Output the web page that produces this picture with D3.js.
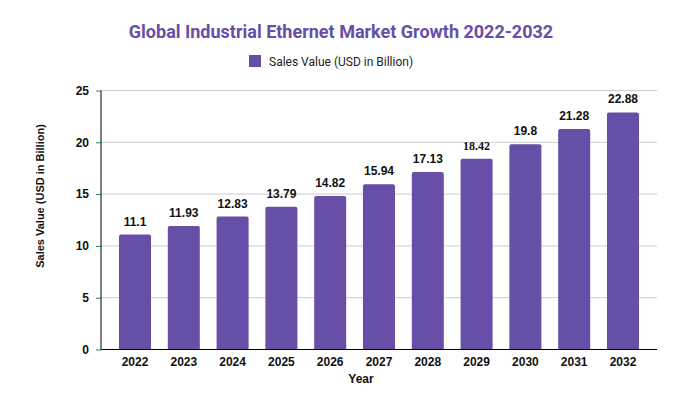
<!DOCTYPE html>
<html>
<head>
<meta charset="utf-8">
<script src="https://cdn.jsdelivr.net/npm/d3@7"></script>
<style>
  body { margin: 0; background: #fff; }
  text { font-family: Roboto, "Liberation Sans", Arial, sans-serif; }
</style>
</head>
<body>
<div id="chart"></div>
<script>
var years  = ['2022', '2023', '2024', '2025', '2026', '2027', '2028', '2029', '2030', '2031', '2032'];
var sales  = [11.1, 11.93, 12.83, 13.79, 14.82, 15.94, 17.13, 18.42, 19.8, 21.28, 22.88];
var yTicks = [0, 5, 10, 15, 20, 25];

var width = 677, height = 416;
var margin = { top: 90.5, right: 20, bottom: 66.5, left: 101 };
var barColor = '#674ea7';

var svg = d3.select('#chart').append('svg')
    .attr('width', width)
    .attr('height', height);

// title
svg.append('text')
    .attr('x', 341)
    .attr('y', 38)
    .attr('text-anchor', 'middle')
    .style('font-size', '18px')
    .style('font-weight', 'bold')
    .attr('fill', barColor)
    .text('Global Industrial Ethernet Market Growth 2022-2032');

// legend
svg.append('rect')
    .attr('x', 249).attr('y', 55)
    .attr('width', 12).attr('height', 12)
    .attr('fill', barColor);
svg.append('text')
    .attr('x', 269).attr('y', 65.5)
    .style('font-size', '12px')
    .attr('fill', '#222')
    .text('Sales Value (USD in Billion)');

var x = d3.scaleBand()
    .domain(years)
    .range([margin.left, width - margin.right])
    .paddingInner(0.344)
    .paddingOuter(0.369);

var y = d3.scaleLinear()
    .domain([0, 25])
    .range([height - margin.bottom, margin.top]);

// grid lines
svg.append('g')
    .selectAll('line')
    .data(yTicks.filter(function(d) { return d > 0; }))
    .join('line')
    .attr('x1', margin.left).attr('x2', width - margin.right)
    .attr('y1', function(d) { return y(d); })
    .attr('y2', function(d) { return y(d); })
    .attr('stroke', '#cccccc');

// y axis
var yAxis = svg.append('g')
    .attr('transform', 'translate(' + margin.left + ',0)')
    .call(d3.axisLeft(y).tickValues(yTicks).tickSize(5).tickPadding(7));
yAxis.select('.domain').remove();
yAxis.selectAll('line').attr('stroke', '#2b7f8c');
yAxis.selectAll('text')
    .style('font-family', '"Liberation Sans", Arial, sans-serif')
    .style('font-size', '12px')
    .style('font-weight', 'bold')
    .attr('fill', '#111');

// bars
svg.append('g')
    .selectAll('path')
    .data(sales)
    .join('path')
    .attr('fill', barColor)
    .attr('d', function(d, i) {
        var x0 = x(years[i]), w = x.bandwidth(), y0 = y(d), y1 = y(0), r = 2;
        return 'M' + x0 + ',' + y1 +
               'V' + (y0 + r) +
               'Q' + x0 + ',' + y0 + ' ' + (x0 + r) + ',' + y0 +
               'H' + (x0 + w - r) +
               'Q' + (x0 + w) + ',' + y0 + ' ' + (x0 + w) + ',' + (y0 + r) +
               'V' + y1 + 'Z';
    });

// value labels (the 2029 one renders in a serif face in the original)
svg.append('g')
    .selectAll('text')
    .data(sales)
    .join('text')
    .attr('x', function(d, i) { return x(years[i]) + x.bandwidth() / 2; })
    .attr('y', function(d) { return y(d) - 9; })
    .attr('text-anchor', 'middle')
    .style('font-family', function(d, i) {
        return years[i] === '2029' ? '"Liberation Serif", serif' : '"Liberation Sans", Arial, sans-serif';
    })
    .style('font-size', '12px')
    .style('font-weight', 'bold')
    .attr('fill', '#111')
    .text(function(d) { return d; });

// axis lines
svg.append('line')
    .attr('x1', margin.left).attr('x2', margin.left)
    .attr('y1', margin.top).attr('y2', y(0))
    .attr('stroke', '#000');
svg.append('line')
    .attr('x1', margin.left).attr('x2', width - margin.right)
    .attr('y1', y(0)).attr('y2', y(0))
    .attr('stroke', '#000');

// x axis labels
svg.append('g')
    .selectAll('text')
    .data(years)
    .join('text')
    .attr('x', function(d) { return x(d) + x.bandwidth() / 2; })
    .attr('y', 366)
    .attr('text-anchor', 'middle')
    .style('font-family', '"Liberation Sans", Arial, sans-serif')
    .style('font-size', '12px')
    .style('font-weight', 'bold')
    .attr('fill', '#111')
    .text(function(d) { return d; });

// axis titles
svg.append('text')
    .attr('x', 361).attr('y', 383)
    .attr('text-anchor', 'middle')
    .style('font-family', '"Liberation Sans", Arial, sans-serif')
    .style('font-size', '12px')
    .style('font-weight', 'bold')
    .attr('fill', '#111')
    .text('Year');

svg.append('text')
    .attr('transform', 'translate(44,196) rotate(-90)')
    .attr('text-anchor', 'middle')
    .style('font-family', '"Liberation Sans", Arial, sans-serif')
    .style('font-size', '11px')
    .style('font-weight', 'bold')
    .attr('fill', '#111')
    .text('Sales Value (USD in Billion)');
</script>
</body>
</html>
